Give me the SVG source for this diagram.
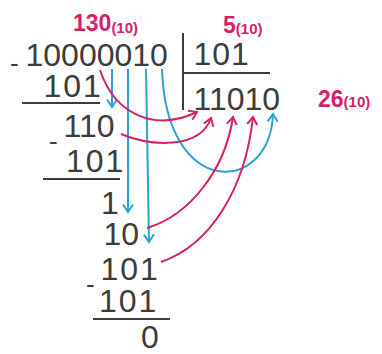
<svg xmlns="http://www.w3.org/2000/svg" width="382" height="354" viewBox="0 0 382 354">
<style>
.n{font-family:"Liberation Sans",Arial,sans-serif;font-size:32px;fill:#3c3c3c}
.d{font-family:"Liberation Sans",Arial,sans-serif;font-size:26px;fill:#3c3c3c}
.r{font-family:"Liberation Sans",Arial,sans-serif;font-weight:bold;fill:#d61f69}
.big{font-size:23px}
.sub{font-size:15px}
.rule{stroke:#3c3c3c;stroke-width:2;fill:none}
.pk{stroke:#d61f69;stroke-width:2;fill:none;marker-end:url(#ap)}
.bl{stroke:#2ba3d1;stroke-width:2;fill:none;marker-end:url(#ab)}
</style>
<defs>
<marker id="ap" markerUnits="userSpaceOnUse" markerWidth="20" markerHeight="20" viewBox="-10 -10 20 20" refX="0" refY="0" orient="auto" overflow="visible"><path d="M-7.5,-5 L0,0 L-7.5,5" fill="none" stroke="#d61f69" stroke-width="2"/></marker>
<marker id="ab" markerUnits="userSpaceOnUse" markerWidth="20" markerHeight="20" viewBox="-10 -10 20 20" refX="0" refY="0" orient="auto" overflow="visible"><path d="M-7.5,-5 L0,0 L-7.5,5" fill="none" stroke="#2ba3d1" stroke-width="2"/></marker>
</defs>
<rect width="382" height="354" fill="#fff"/>
<g id="labels">
<text class="r" x="73" y="31"><tspan class="big">130</tspan><tspan class="sub" dy="2">(10)</tspan></text>
<text class="r" x="223" y="33"><tspan class="big">5</tspan><tspan class="sub" dy="1">(10)</tspan></text>
<text class="r" x="318" y="107"><tspan class="big">26</tspan><tspan class="sub">(10)</tspan></text>
</g>
<g id="division">
<text class="d" x="10" y="72">-</text>
<text class="n" x="25.5" y="66">10000010</text>
<text class="n" x="193.5" y="65" letter-spacing="1">101</text>
<text class="n" x="193.5" y="110">11010</text>
<line class="rule" x1="183" y1="33" x2="183" y2="110"/>
<line class="rule" x1="183" y1="73" x2="270" y2="73"/>
</g>
<g id="step1">
<text class="n" x="43.5" y="97" letter-spacing="2">101</text>
<line class="rule" x1="22" y1="103" x2="100" y2="103"/>
</g>
<g id="step2">
<text class="n" x="63.5" y="137">110</text>
<text class="d" x="49" y="150">-</text>
<text class="n" x="66" y="172" letter-spacing="2">101</text>
<line class="rule" x1="43" y1="179" x2="120" y2="179"/>
</g>
<g id="step3">
<text class="n" x="101" y="214">1</text>
<text class="n" x="103.5" y="245">10</text>
<text class="n" x="100.5" y="280" letter-spacing="2">101</text>
<text class="d" x="86" y="293">-</text>
<text class="n" x="99" y="312" letter-spacing="2">101</text>
<line class="rule" x1="93" y1="319" x2="170" y2="319"/>
<text class="n" x="141" y="348">0</text>
</g>
<g id="connectors">
<line class="bl" x1="112" y1="69" x2="112" y2="107"/>
<line class="bl" x1="128" y1="69" x2="128" y2="212"/>
<line class="bl" x1="146" y1="69" x2="149" y2="242"/>
<path class="bl" d="M162,69 C166,200 270,195 273,114"/>
<path class="pk" d="M100,70 C115,115 155,132 197,112"/>
<path class="pk" d="M121,134 C150,146 200,150 211,118"/>
<path class="pk" d="M147,228 C190,215 225,170 233,117"/>
<path class="pk" d="M161,262 C210,245 245,190 253,117"/>
</g>
</svg>
